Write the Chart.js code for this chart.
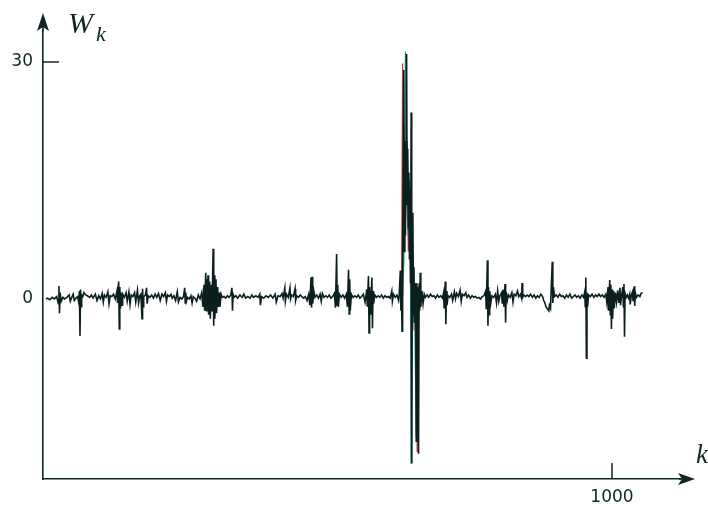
<!DOCTYPE html>
<html>
<head>
<meta charset="utf-8">
<script src="https://cdn.jsdelivr.net/npm/chart.js@4/dist/chart.umd.min.js"></script>
<style>
  html, body { margin: 0; padding: 0; background: #ffffff; }
  #wrap { width: 708px; height: 508px; position: relative; }
</style>
</head>
<body>
<div id="wrap"><canvas id="c" width="708" height="508"></canvas></div>
<script>
// Axis ticks and titles
const xTickValues = [1000];
const yTickValues = [0, 30];
const xTitle = 'k';
const yTitle = 'W';
const yTitleSub = 'k';

// Wavelet coefficients W_k against index k, as [k, W] pairs
const traceBlack = [
  [5,0],[8,0.1],[12,-0.1],[16,0.2],[20,0],[24,0.3],[27,-0.6],[28,1.65],[29,-1.8],[30,0.8],
  [32,-0.3],[35,0.2],[38,0],[42,0.2],[46,0.5],[48,-0.3],[50,0.1],[53,0.6],[55,-0.2],[58,0.1],
  [61,0.3],[63,-0.5],[64,1.0],[65,-4.7],[66,1.2],[67,-1.0],[68,0.5],[70,0.3],[72,0.8],[75,0.5],
  [78,0.4],[82,0.2],[85,0.5],[88,0.1],[92,0.6],[95,-0.2],[98,0.4],[101,0],[104,0.7],[106,-0.4],
  [108,0.5],[111,0.2],[114,0.9],[116,-0.6],[118,0.4],[121,0.3],[124,0.6],[127,0],[130,1.0],[131,-0.5],
  [133,2.2],[134,-3.8],[135,1.5],[136,-1.2],[138,0.8],[139,-0.8],[140,0.6],[143,0.2],[146,0.8],[148,-0.3],
  [151,0.9],[153,-0.7],[155,0.5],[158,0.3],[161,0.8],[163,-0.4],[166,1.1],[168,-0.5],[170,0.4],[172,0.6],
  [174,-2.5],[175,1.3],[176,-1.0],[177,0.3],[180,0.5],[182,1.4],[183,-0.6],[185,0.4],[188,0.2],[191,0.5],
  [194,0.1],[197,0.6],[200,0.2],[203,0.7],[206,-0.2],[209,0.6],[212,0.3],[215,0.8],[217,-0.3],[219,0.5],
  [222,0.3],[225,0.6],[227,0.1],[230,0.4],[233,-0.2],[236,0.9],[238,-0.4],[241,0.2],[244,0],[247,0.3],
  [249,1.4],[250,-0.5],[251,0.8],[252,-0.3],[254,0.2],[257,0],[260,0.4],[262,-0.5],[264,0.3],[267,0.1],
  [270,-0.3],[273,0.5],[276,0],[279,0.8],[281,-1.0],[283,1.8],[284,-1.5],[286,3.3],[287,-1.5],[288,2.5],
  [289,-1.0],[290,3.0],[291,-2.0],[293,2.2],[294,-2.5],[296,1.8],[297,-1.6],[299,6.35],[300,-3.4],[301,3.0],
  [302,-2.5],[304,2.5],[305,-1.8],[307,1.5],[308,-1.0],[310,0.8],[311,-1.0],[313,0.6],[315,0.2],[318,0.3],
  [321,0.1],[324,0.4],[327,0.2],[330,0.5],[332,1.4],[333,-1.5],[334,0.6],[336,0.2],[339,0.4],[342,0.1],
  [346,0.5],[350,0.2],[353,0.6],[356,0.1],[360,0.3],[364,0.1],[367,0.5],[370,0.2],[374,0.4],[378,0.2],
  [381,0.6],[382,-0.8],[384,0.3],[388,0.1],[392,0.4],[396,0.2],[400,0.5],[404,0.1],[408,0.6],[410,-0.4],
  [413,0.4],[417,0.3],[420,0.7],[422,0.1],[425,1.4],[426,-0.3],[428,0.6],[431,0.2],[434,1.4],[435,0],
  [437,0.5],[440,0.3],[443,1.3],[444,-0.2],[446,0.4],[449,0.2],[452,0.5],[455,0.3],[458,0.1],[461,0.3],
  [464,-0.2],[467,0.6],[469,-0.8],[471,2.7],[472,-1.1],[473,2.8],[474,-0.6],[476,1.0],[478,0.2],[481,0.5],
  [484,0.1],[487,0.6],[489,-0.3],[491,0.7],[494,0.2],[497,0.4],[500,0.2],[503,0.5],[506,0.1],[509,0.3],
  [512,0.7],[514,-1.1],[516,5.7],[517,-0.8],[518,1.8],[519,-1.0],[521,0.6],[524,0.2],[527,0.5],[530,0.1],
  [533,0.6],[535,-1.0],[537,3.7],[538,-1.9],[539,2.5],[540,-1.5],[542,0.6],[545,0.2],[548,0.4],[551,0.2],
  [554,0.5],[557,0.1],[560,0.3],[563,0.6],[566,-0.4],[569,1.2],[570,-1.0],[572,2.9],[573,-4.3],[574,1.5],
  [576,-2.0],[578,2.7],[579,-3.7],[580,1.0],[581,-0.6],[583,0.5],[586,0.2],[589,0.4],[592,0.2],[595,0.5],
  [598,0.1],[601,0.4],[604,0.2],[607,0.3],[610,0.1],[613,1.0],[614,-0.3],[616,0.6],[619,0.2],[622,0.5],
  [625,-0.2],[626,0.5],[628,3.6],[629,-1.5],[630,1.0],[631,-4.1],[632,4.0],[634,29.0],[635,6.0],[636,20.0],
  [637,8.0],[638,18.0],[639,31.0],[640,12.0],[641,19.0],[642,9.0],[643,16.0],[644,5.0],[645,14.0],
  [646,2.0],[647,23.6],[648,-20.8],[649,3.0],[650,10.9],[651,-2.0],[652,4.0],[653,-3.0],[655,2.0],[656,-18.0],
  [657,2.0],[658,-2.0],[659,1.5],[660,-19.6],[661,2.0],[662,-1.5],[663,3.3],[664,-1.0],[666,1.0],
  [668,-0.6],[670,0.6],[672,0.2],[675,0.5],[678,0.2],[681,0.6],[684,0.3],[687,0.4],[690,0.1],[693,0.5],
  [696,0.2],[699,0.4],[702,0.1],[704,0.8],[705,-1.2],[707,2.2],[708,-3.2],[709,1.0],[710,-0.8],[712,0.4],
  [715,0.2],[718,0.6],[720,-0.2],[723,0.9],[725,0],[727,0.7],[730,0.3],[733,1.1],[735,-0.3],[737,0.6],
  [740,0.4],[743,0.8],[745,0.2],[748,0.5],[751,0.1],[754,0.4],[757,0.2],[760,0.3],[763,0.1],[766,0.2],
  [769,0],[772,0.3],[775,0.4],[778,1.0],[779,-1.2],[780,1.8],[781,4.9],[782,-3.4],[783,1.5],[784,-2.0],
  [785,1.0],[787,-0.5],[789,0.4],[792,0.2],[795,0.6],[797,-0.5],[799,1.0],[801,-0.3],[803,0.4],[806,0.8],
  [807,-0.6],[809,1.2],[810,-1.0],[812,1.9],[813,-3.0],[814,0.9],[816,-0.2],[818,0.5],[821,0.2],[824,0.8],
  [826,-0.4],[828,0.6],[831,0.4],[834,1.0],[836,0.3],[839,0.6],[841,0.1],[842,2.0],[843,0.2],[845,0.5],
  [848,0.3],[851,0.5],[854,0.3],[857,0.6],[860,0.2],[863,0.5],[866,0.1],[869,0.4],[872,0.2],[875,0.6],
  [878,0.3],[880,-0.2],[882,-0.5],[884,-1.0],[887,-1.3],[889,-1.5],[890,-0.8],[892,-1.2],[893,1.0],[895,4.7],
  [896,-0.5],[897,1.5],[899,0.3],[902,0.5],[905,0.2],[908,0.6],[911,0.3],[914,0.4],[917,0.1],[920,0.5],
  [923,0.2],[926,0.6],[929,0.1],[932,0.3],[935,0.5],[938,0.2],[941,0.4],[944,0.1],[947,0.5],[950,0.2],
  [952,0.9],[953,-1.0],[954,2.7],[955,-7.5],[956,0.8],[957,-1.0],[959,0.5],[962,0.3],[965,0.6],[968,0.2],
  [971,0.5],[974,0.3],[977,0.6],[980,0.3],[983,0.5],[986,0.2],[989,0.6],[991,-0.5],[993,1.5],[994,-1.5],
  [996,2.4],[997,-2.0],[998,1.8],[999,-3.8],[1000,1.2],[1001,-2.5],[1003,1.0],[1004,-1.2],[1006,0.8],[1008,-0.4],
  [1010,1.1],[1012,-0.5],[1014,1.4],[1015,-0.8],[1017,0.5],[1019,1.5],[1020,-1.0],[1021,1.9],[1022,-4.8],[1023,0.7],
  [1025,0.2],[1027,0.5],[1029,0.1],[1031,0.6],[1032,-0.7],[1034,0.5],[1036,0.9],[1037,-0.3],[1039,1.6],[1040,-0.9],
  [1041,0.8],[1043,0.2],[1046,0.5],[1049,0.3],[1051,0.7],[1054,0.8]
];

// Two companion reconstructions that separate only around the central burst
const traceTeal = [
  [630,0.2],[632,0.3],[634,5.0],[636,14.0],[637,31.3],[638,12.0],[640,20.0],[642,8.0],[644,15.0],[646,3.0],
  [647,-20.8],[648,4.0],[650,7.0],[651,-3.0],[653,1.0],[656,-17.5],[658,1.0],[661,0.5],[664,0]
];
const traceRed = [
  [628,0.2],[630,0.5],[632,29.8],[633,8.0],[635,22.0],[637,10.0],[640,16.0],[642,6.0],[644,12.0],[646,1.0],
  [648,-6.0],[650,5.0],[652,-4.0],[654,2.0],[656,-3.0],[657.5,-19.3],[659,1.0],[662,0]
];

const ink = '#0e2626';
const toXY = arr => arr.map(([k, w]) => ({ x: k, y: w }));

// Arrowheads, inward tick marks and axis titles
const axisDecor = {
  id: 'axisDecor',
  afterDraw(chart) {
    const { ctx, chartArea: a, scales: { x, y } } = chart;
    ctx.save();
    ctx.strokeStyle = ink;
    ctx.fillStyle = ink;
    ctx.lineWidth = 1.6;

    // arrow on the vertical axis
    const ax = a.left;
    ctx.beginPath();
    ctx.moveTo(ax, a.top + 1);
    ctx.lineTo(ax, a.top - 8);
    ctx.stroke();
    ctx.beginPath();
    ctx.moveTo(ax, a.top - 17);
    ctx.lineTo(ax - 6, a.top + 1);
    ctx.lineTo(ax, a.top - 3);
    ctx.lineTo(ax + 6, a.top + 1);
    ctx.closePath();
    ctx.fill();

    // arrow on the horizontal axis
    const ay = a.bottom;
    ctx.beginPath();
    ctx.moveTo(a.right - 1, ay);
    ctx.lineTo(a.right + 8, ay);
    ctx.stroke();
    ctx.beginPath();
    ctx.moveTo(a.right + 15, ay);
    ctx.lineTo(a.right - 2, ay - 6);
    ctx.lineTo(a.right + 2, ay);
    ctx.lineTo(a.right - 2, ay + 6);
    ctx.closePath();
    ctx.fill();

    // tick marks pointing into the plot
    ctx.lineWidth = 1.5;
    yTickValues.forEach(v => {
      if (v === 0) return;
      const py = y.getPixelForValue(v);
      ctx.beginPath();
      ctx.moveTo(ax, py);
      ctx.lineTo(ax + 16, py);
      ctx.stroke();
    });
    xTickValues.forEach(v => {
      const px = x.getPixelForValue(v);
      ctx.beginPath();
      ctx.moveTo(px, ay);
      ctx.lineTo(px, ay - 16);
      ctx.stroke();
    });

    // axis titles
    ctx.textBaseline = 'alphabetic';
    ctx.textAlign = 'left';
    ctx.font = 'italic 30px "Liberation Serif"';
    ctx.fillText(yTitle, 68, 33);
    ctx.font = 'italic 22px "Liberation Serif"';
    ctx.fillText(yTitleSub, 96, 41);
    ctx.font = 'italic 27px "Liberation Serif"';
    ctx.fillText(xTitle, 696, 463);
    ctx.restore();
  }
};

const plainLabel = v => String(v);

new Chart(document.getElementById('c'), {
  type: 'line',
  data: {
    datasets: [
      { data: toXY(traceBlack), borderColor: '#0b1f1f', borderWidth: 1.6 },
      { data: toXY(traceTeal), borderColor: '#1f8585', borderWidth: 1.3 },
      { data: toXY(traceRed), borderColor: '#c8443c', borderWidth: 1.2 }
    ].map(d => Object.assign(d, { pointRadius: 0, tension: 0, fill: false, spanGaps: true }))
  },
  options: {
    responsive: false,
    animation: false,
    devicePixelRatio: 1,
    layout: { padding: { top: 30, right: 28, left: 0, bottom: 0 } },
    plugins: { legend: { display: false }, tooltip: { enabled: false } },
    scales: {
      x: {
        type: 'linear',
        min: 0,
        max: 1119.5,
        grid: { display: false, drawTicks: false, tickLength: 0 },
        border: { display: true, color: ink, width: 1.6 },
        afterBuildTicks: s => { s.ticks = xTickValues.map(v => ({ value: v })); },
        afterFit: s => { s.height = 29; },
        ticks: {
          padding: 8,
          color: ink,
          font: { family: '"DejaVu Sans"', size: 17 },
          maxRotation: 0,
          callback: plainLabel
        }
      },
      y: {
        type: 'linear',
        min: -22.8,
        max: 34.05,
        grid: { display: false, drawTicks: false, tickLength: 0 },
        border: { display: true, color: ink, width: 1.6 },
        afterBuildTicks: s => { s.ticks = yTickValues.map(v => ({ value: v })); },
        afterFit: s => { s.width = 43; },
        ticks: {
          padding: 10,
          color: ink,
          font: { family: '"DejaVu Sans"', size: 17 },
          callback: plainLabel
        }
      }
    }
  },
  plugins: [axisDecor]
});
</script>
</body>
</html>
